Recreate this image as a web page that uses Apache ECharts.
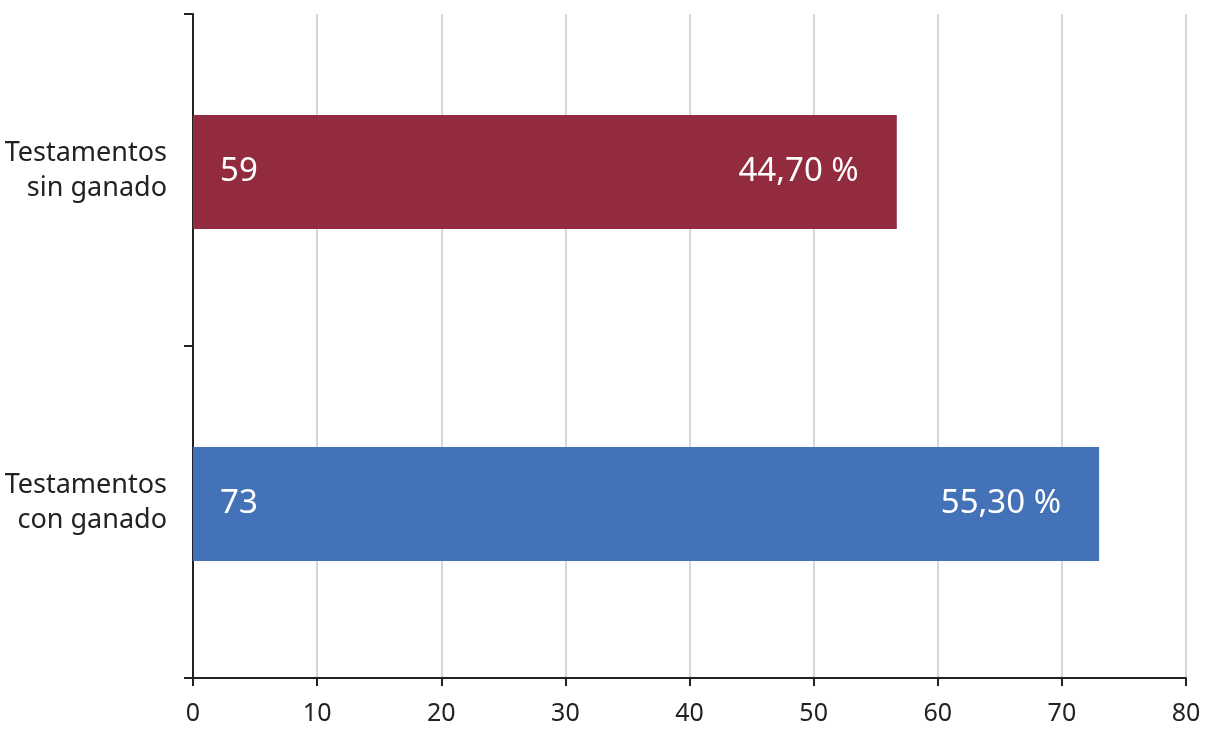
<!DOCTYPE html>
<html><head><meta charset="utf-8">
<script src="https://cdn.jsdelivr.net/npm/echarts@6/dist/echarts.min.js"></script>
<style>html,body{margin:0;padding:0;background:#fff}#c{width:1208px;height:745px}</style>
</head><body><div id="c"></div>
<script>
const categories = ['Testamentos\ncon ganado', 'Testamentos\nsin ganado'];
const barValues = [73, 56.7];
const countLabels = ['73', '59'];
const percentLabels = ['55,30 %', '44,70 %'];
const barColors = ['#4472B9', '#912B3D'];
const xTicks = [0, 10, 20, 30, 40, 50, 60, 70, 80];

const FONT = '"Noto Sans", "Open Sans", sans-serif';
const chart = echarts.init(document.getElementById('c'));
chart.setOption({
  animation: false,
  grid: {left: 193, right: 22, top: 14, bottom: 67},
  xAxis: {
    type: 'value', min: xTicks[0], max: xTicks[xTicks.length - 1], interval: 10,
    axisLine: {show: true, lineStyle: {color: '#222', width: 2}},
    axisTick: {show: true, length: 8, lineStyle: {color: '#222', width: 2}},
    axisLabel: {color: '#222', fontSize: 25, fontFamily: FONT, margin: 23},
    splitLine: {show: true, lineStyle: {color: '#c8c8c8', width: 1.5}}
  },
  yAxis: {
    type: 'category', data: categories,
    axisLine: {show: true, lineStyle: {color: '#222', width: 2}},
    axisTick: {show: true, length: 9, lineStyle: {color: '#222', width: 2}},
    axisLabel: {color: '#222', fontSize: 27, fontFamily: FONT, margin: 26, align: 'right',
      formatter: v => v.split('\n').map(s => '{t|' + s + '}').join('\n') + '\n{s|}',
      rich: {
        t: {fontSize: 27, fontFamily: FONT, color: '#222', lineHeight: 35, align: 'right'},
        s: {fontSize: 10, lineHeight: 18}
      }}
  },
  series: [
    {
      type: 'bar', stack: 'main', barWidth: 114, barGap: 0,
      data: barValues.map((v, i) => ({value: v, itemStyle: {color: barColors[i]}})),
      label: {show: true, position: 'insideLeft', distance: 27, color: '#fff', fontSize: 33, fontFamily: FONT,
        formatter: p => countLabels[p.dataIndex]}
    },
    {
      type: 'bar', stack: 'main', barWidth: 114,
      data: barValues.map(() => 0),
      itemStyle: {color: 'rgba(0,0,0,0)'},
      label: {show: true, position: 'left', distance: 38, color: '#fff', fontSize: 33, fontFamily: FONT,
        formatter: p => percentLabels[p.dataIndex]},
      silent: true
    },
    {
      type: 'bar', stack: 'spacer', barWidth: 16,
      data: barValues.map(() => 0),
      itemStyle: {color: 'rgba(0,0,0,0)'},
      silent: true
    }
  ]
});
</script></body></html>
